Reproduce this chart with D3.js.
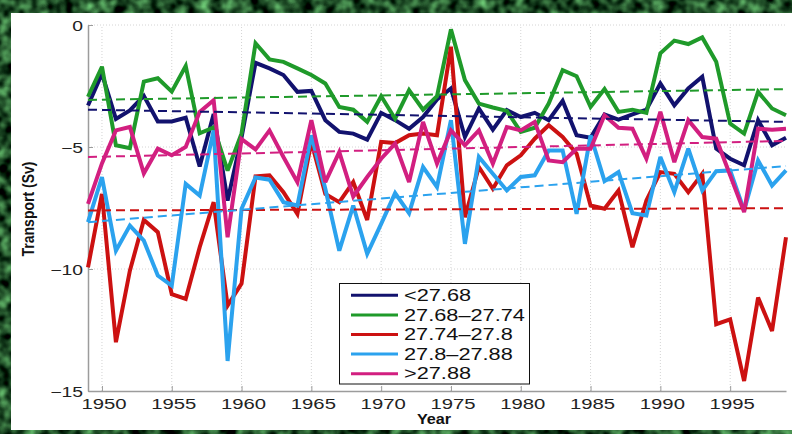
<!DOCTYPE html>
<html>
<head>
<meta charset="utf-8">
<script src="https://cdn.jsdelivr.net/npm/d3@7"></script>
<style>
  html, body { margin: 0; padding: 0; background: #1d4f2c; }
  svg { display: block; }
  text { font-family: "Liberation Sans", Arial, Helvetica, sans-serif; }
</style>
</head>
<body>
<svg id="chart" width="792" height="434"></svg>
<script>
// ---- data: annual transport per density class (Sv) ----
const years = d3.range(1949, 2000);

const lt2768 = [-3.3, -2.0, -3.85, -3.5, -2.9, -3.95, -3.95, -3.8, -5.8, -3.65,
  -7.2, -4.6, -1.55, -1.78, -2.05, -2.74, -2.7, -3.9, -4.38, -4.45,
  -4.7, -3.6, -3.9, -4.25, -3.77, -3.05, -2.6, -4.59, -3.42, -4.29,
  -3.49, -3.77, -3.6, -3.9, -3.11, -4.52, -4.62, -3.67, -3.88, -3.66,
  -3.47, -2.4, -3.29, -2.6, -2.12, -5.07, -5.48, -5.75, -3.9, -4.93, -4.62];

const s2768_2774 = [-2.94, -1.71, -4.93, -5.05, -2.32, -2.18, -2.73, -1.68, -4.44, -4.2,
  -5.97, -4.44, -0.75, -1.41, -1.51, -1.78, -2.05, -2.4, -3.36, -3.47,
  -3.97, -2.92, -3.84, -2.67, -3.47, -2.92, -0.18, -2.26, -3.22, -3.38,
  -3.52, -4.38, -4.21, -3.22, -1.85, -2.1, -3.36, -2.62, -3.56, -3.47,
  -3.6, -1.16, -0.64, -0.78, -0.51, -1.51, -4.04, -4.45, -2.74, -3.42, -3.7];

const s2774_278 = [-9.93, -6.92, -13.0, -10.07, -7.99, -8.49, -11.03, -11.23, -9.11, -7.26,
  -11.5, -10.6, -6.2, -6.16, -6.85, -7.74, -4.79, -6.92, -7.26, -6.44,
  -7.99, -4.79, -4.84, -4.52, -4.45, -4.52, -0.89, -7.88, -5.82, -6.71,
  -5.75, -5.34, -4.66, -4.11, -4.59, -5.27, -7.4, -7.53, -6.78, -9.11,
  -7.19, -6.03, -6.1, -6.85, -6.1, -12.26, -12.06, -14.59, -11.17, -12.54, -8.7];

const s278_2788 = [-8.08, -6.23, -9.25, -8.22, -8.84, -10.27, -10.68, -6.51, -6.99, -4.32,
  -13.77, -7.53, -6.25, -6.34, -7.26, -7.4, -4.52, -6.71, -9.25, -7.4,
  -9.38, -8.15, -6.89, -7.71, -5.82, -6.64, -3.9, -8.97, -5.41, -6.1,
  -6.78, -6.23, -6.16, -5.14, -5.14, -7.74, -4.52, -6.4, -6.03, -7.71,
  -7.81, -5.41, -6.85, -5.07, -6.78, -5.99, -5.96, -7.6, -5.55, -6.58, -5.96];

const gt2788 = [-7.33, -5.67, -4.32, -4.18, -6.08, -5.07, -5.34, -5.0, -3.56, -3.08,
  -8.7, -4.68, -5.1, -4.32, -5.41, -6.44, -3.9, -6.44, -5.21, -7.03,
  -6.23, -5.48, -4.86, -6.44, -3.97, -5.68, -4.32, -4.93, -4.32, -5.68,
  -4.18, -4.32, -3.97, -5.55, -5.62, -5.07, -5.07, -3.7, -4.21, -4.25,
  -5.48, -3.56, -5.62, -3.9, -4.59, -4.66, -6.16, -7.67, -4.25, -4.29, -4.25];

// linear trend of each class, value at first and last year
const trendYears = [1949, 1999];
const trendStart = [-3.47, -3.07, -7.6, -8.08, -5.41];
const trendEnd   = [-3.97, -2.63, -7.51, -5.78, -4.75];

const seriesNames = ["<27.68", "27.68\u201327.74", "27.74\u201327.8", "27.8\u201327.88", ">27.88"];
const seriesValues = [lt2768, s2768_2774, s2774_278, s278_2788, gt2788];

const xTickValues = [1950, 1955, 1960, 1965, 1970, 1975, 1980, 1985, 1990, 1995];
const xTickLabels = ["1950", "1955", "1960", "1965", "1970", "1975", "1980", "1985", "1990", "1995"];
const yTickValues = [-15, -10, -5, 0];
const yTickLabels = ["\u221215", "\u221210", "\u22125", "0"];

// ---- styles ----
const colors = ["#12126e", "#1f9a2a", "#cc1111", "#2ba2ee", "#d21f80"];

const W = 792, H = 434;
const svg = d3.select("#chart");

// mottled dark-green backdrop
const defs = svg.append("defs");
const f = defs.append("filter").attr("id", "mottle")
  .attr("x", 0).attr("y", 0).attr("width", "100%").attr("height", "100%")
  .attr("color-interpolation-filters", "sRGB");
f.append("feTurbulence").attr("type", "fractalNoise")
  .attr("baseFrequency", "0.08").attr("numOctaves", 2).attr("seed", 7);
f.append("feColorMatrix").attr("type", "matrix")
  .attr("values", "0.85 0 0 0 -0.3  1.35 0 0 0 -0.37  0.85 0 0 0 -0.27  0 0 0 0 1");
svg.append("rect").attr("width", W).attr("height", H).attr("filter", "url(#mottle)");

// white figure panel
svg.append("rect").attr("x", 11).attr("y", 13).attr("width", W - 11).attr("height", 417)
  .attr("fill", "#ffffff");

const x = d3.scaleLinear().domain([1949, 1999]).range([88, 786]);
const y = d3.scaleLinear().domain([-15, 0]).range([391, 25]);

// dotted grid
const grid = svg.append("g").attr("stroke", "#d4d4d4").attr("stroke-width", 1)
  .attr("stroke-dasharray", "1,2");
grid.selectAll("line.v").data(xTickValues).join("line").attr("class", "v")
  .attr("x1", d => x(d)).attr("x2", d => x(d)).attr("y1", y(-15)).attr("y2", y(0));
grid.selectAll("line.h").data(yTickValues.filter(v => v > -15)).join("line").attr("class", "h")
  .attr("x1", x(1949)).attr("x2", x(1999)).attr("y1", d => y(d)).attr("y2", d => y(d));

// axes
const axisColor = "#9c9c9c";
const gx = svg.append("g").attr("transform", `translate(0,${y(-15)})`)
  .call(d3.axisBottom(x).tickValues(xTickValues)
    .tickFormat((d, i) => xTickLabels[i]).tickSizeInner(-5).tickSizeOuter(0));
const gy = svg.append("g").attr("transform", `translate(${x(1949)},0)`)
  .call(d3.axisLeft(y).tickValues(yTickValues)
    .tickFormat((d, i) => yTickLabels[i]).tickSizeInner(-5).tickSizeOuter(0));

[gx, gy].forEach(g => {
  g.select(".domain").attr("stroke", axisColor).attr("stroke-width", 1.5);
  g.selectAll(".tick line").attr("stroke", axisColor);
  g.selectAll("text").attr("fill", "#222").attr("font-size", 14)
    .attr("font-family", "Liberation Sans, Arial, sans-serif");
});
gx.selectAll(".tick text").attr("y", 0).attr("dy", 0)
  .attr("transform", "translate(1.5,17.5) scale(1.45,1)");
gy.selectAll(".tick text").attr("x", 0).attr("dy", "0.36em")
  .attr("transform", "translate(-5,0.5) scale(1.38,1)");

// series lines
const line = d3.line().x((d, i) => x(years[i])).y(d => y(d));
svg.append("g").selectAll("path").data(seriesValues).join("path")
  .attr("d", d => line(d))
  .attr("fill", "none")
  .attr("stroke", (d, i) => colors[i])
  .attr("stroke-width", 4)
  .attr("stroke-linejoin", "miter")
  .attr("stroke-miterlimit", 3);

// dashed trend lines
svg.append("g").selectAll("line").data(trendStart).join("line")
  .attr("x1", x(trendYears[0])).attr("x2", x(trendYears[1]))
  .attr("y1", d => y(d)).attr("y2", (d, i) => y(trendEnd[i]))
  .attr("stroke", (d, i) => colors[i])
  .attr("stroke-width", 2)
  .attr("stroke-dasharray", "9,5");

// axis titles
svg.append("text")
  .attr("transform", "translate(33.5,209) rotate(-90) scale(1,1.15)")
  .attr("text-anchor", "middle").attr("font-size", 14).attr("font-weight", "bold")
  .attr("fill", "#111").text("Transport (Sv)");
svg.append("text")
  .attr("transform", "translate(434,424) scale(1.08,1)")
  .attr("text-anchor", "middle").attr("font-size", 15).attr("font-weight", "bold")
  .attr("fill", "#111").text("Year");

// legend
const lg = svg.append("g");
lg.append("rect").attr("x", 339.5).attr("y", 283.5).attr("width", 190).attr("height", 100.5)
  .attr("fill", "#fff").attr("stroke", "#111").attr("stroke-width", 1);
const rows = lg.selectAll("g.row").data(seriesNames).join("g").attr("class", "row")
  .attr("transform", (d, i) => `translate(0,${295.3 + i * 19.6})`);
rows.append("line").attr("x1", 351).attr("x2", 398).attr("y1", 0).attr("y2", 0)
  .attr("stroke", (d, i) => colors[i]).attr("stroke-width", 3);
rows.append("text").attr("transform", "translate(404,0) scale(1.36,1)")
  .attr("dy", "0.36em").attr("font-size", 16).attr("fill", "#111").text(d => d);
</script>
</body>
</html>
